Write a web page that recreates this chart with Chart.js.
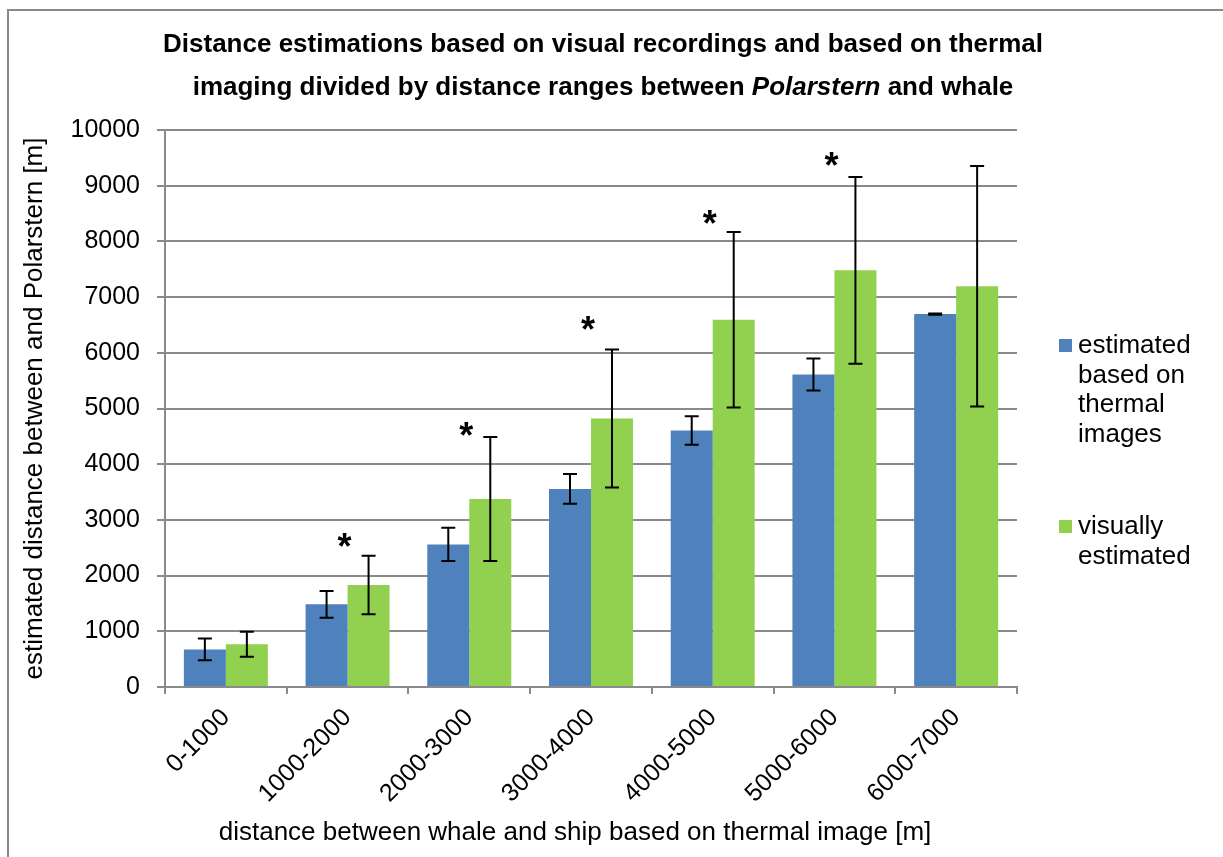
<!DOCTYPE html>
<html>
<head>
<meta charset="utf-8">
<script src="https://cdn.jsdelivr.net/npm/chart.js@4.4.1/dist/chart.umd.min.js"></script>
<style>
  html, body { margin: 0; padding: 0; background: #fff; }
  #wrap { width: 1223px; height: 857px; position: relative; }
</style>
</head>
<body>
<div id="wrap"><canvas id="chart" width="1223" height="857"></canvas></div>
<script>
// data
var categories = ['0-1000', '1000-2000', '2000-3000', '3000-4000', '4000-5000', '5000-6000', '6000-7000']
var thermal    = [675, 1485, 2560, 3555, 4605, 5610, 6695]
var thermalErr = [195, 240, 300, 267, 255, 287, 12]
var visual     = [767, 1830, 3375, 4820, 6595, 7480, 7195]
var visualErr  = [225, 525, 1115, 1240, 1575, 1676, 2160]
var starAt     = [null, 2600, 4600, 6500, 8400, 9450, null]
var yTicks     = [0, 1000, 2000, 3000, 4000, 5000, 6000, 7000, 8000, 9000, 10000]
var legendLines = [
  ['estimated', 'based on', 'thermal', 'images'],
  ['visually', 'estimated']
]

var FONT = '"Liberation Sans", Arial, sans-serif'
var GRID = '#8a8a8a'

// outer frame + title
var framePlugin = {
  id: 'frame',
  beforeDraw: function(chart) {
    var c = chart.ctx
    c.save()
    c.strokeStyle = GRID
    c.lineWidth = 2
    c.strokeRect(8, 10, 1240, 880)
    c.restore()
  },
  afterDraw: function(chart) {
    var c = chart.ctx
    c.save()
    c.fillStyle = '#000'
    c.textBaseline = 'middle'
    c.font = 'bold 26px ' + FONT
    c.textAlign = 'center'
    c.fillText('Distance estimations based on visual recordings and based on thermal', 603, 45)

    // second line has an italic word
    var parts = [
      ['imaging divided by distance ranges between ', 'bold 26px '],
      ['Polarstern', 'italic bold 26px '],
      [' and whale', 'bold 26px ']
    ]
    var total = 0
    for (var i = 0; i < parts.length; i++) {
      c.font = parts[i][1] + FONT
      total += c.measureText(parts[i][0]).width
    }
    var x = 603 - total / 2
    c.textAlign = 'left'
    for (var i = 0; i < parts.length; i++) {
      c.font = parts[i][1] + FONT
      c.fillText(parts[i][0], x, 88)
      x += c.measureText(parts[i][0]).width
    }

    // x axis title
    c.font = '26px ' + FONT
    c.textAlign = 'center'
    c.fillText('distance between whale and ship based on thermal image [m]', 575, 833)

    // legend
    var colors = [chart.data.datasets[0].backgroundColor, chart.data.datasets[1].backgroundColor]
    var tops = [346, 527]
    c.textAlign = 'left'
    for (var k = 0; k < legendLines.length; k++) {
      c.fillStyle = colors[k]
      c.fillRect(1059, tops[k] - 7, 13, 13)
      c.fillStyle = '#000'
      for (var j = 0; j < legendLines[k].length; j++) {
        c.fillText(legendLines[k][j], 1078, tops[k] + j * 29.5)
      }
    }
    c.restore()
  }
}

// error bars and significance stars
var errPlugin = {
  id: 'errbars',
  afterDatasetsDraw: function(chart) {
    var c = chart.ctx
    var ys = chart.scales.y
    var errs = [thermalErr, visualErr]
    c.save()
    c.strokeStyle = '#000'
    c.lineWidth = 2
    for (var d = 0; d < 2; d++) {
      var meta = chart.getDatasetMeta(d)
      var vals = chart.data.datasets[d].data
      meta.data.forEach(function(bar, i) {
        var top = ys.getPixelForValue(vals[i] + errs[d][i])
        var bot = ys.getPixelForValue(vals[i] - errs[d][i])
        c.beginPath()
        c.moveTo(bar.x, top); c.lineTo(bar.x, bot)
        c.moveTo(bar.x - 7, top); c.lineTo(bar.x + 7, top)
        c.moveTo(bar.x - 7, bot); c.lineTo(bar.x + 7, bot)
        c.stroke()
      })
    }
    c.fillStyle = '#000'
    c.font = 'bold 36px ' + FONT
    c.textAlign = 'center'
    c.textBaseline = 'middle'
    for (var i = 0; i < starAt.length; i++) {
      if (starAt[i] == null) continue
      var x = chart.scales.x.getPixelForValue(i) - 3
      c.fillText('*', x, ys.getPixelForValue(starAt[i]) + 7)
    }
    c.restore()
  }
}

var ctx = document.getElementById('chart')
var myBarChart = new Chart(ctx, {
  type: 'bar',
  data: {
    labels: categories,
    datasets: [{
      label: 'estimated based on thermal images',
      backgroundColor: '#4f81bd',
      data: thermal
    }, {
      label: 'visually estimated',
      backgroundColor: '#92d050',
      data: visual
    }]
  },
  options: {
    responsive: false,
    animation: false,
    layout: { padding: { top: 130, right: 206, bottom: 0, left: 0 } },
    datasets: { bar: { categoryPercentage: 0.69, barPercentage: 1.0 } },
    plugins: {
      legend: { display: false },
      title: { display: false },
      tooltip: { enabled: false }
    },
    scales: {
      x: {
        grid: { display: true, drawOnChartArea: false, offset: true, tickLength: 7, color: GRID, lineWidth: 2 },
        border: { color: GRID, width: 2 },
        ticks: { color: '#000', font: { family: FONT, size: 25 }, minRotation: 45, maxRotation: 45, padding: 9 },
        afterFit: function(s) { s.height = 170 }
      },
      y: {
        min: 0,
        max: 10000,
        afterBuildTicks: function(s) { s.ticks = yTicks.map(function(v) { return { value: v } }) },
        grid: { color: GRID, lineWidth: 2, tickLength: 8 },
        border: { color: GRID, width: 2 },
        ticks: {
          color: '#000',
          font: { family: FONT, size: 25 },
          padding: 17,
          callback: function(v) { return String(v) }
        },
        title: {
          display: true,
          text: 'estimated distance between and Polarstern [m]',
          color: '#000',
          font: { family: FONT, size: 26 },
          padding: { top: 19, bottom: 0 }
        },
        afterFit: function(s) { s.width = 165 }
      }
    }
  },
  plugins: [framePlugin, errPlugin]
})
</script>
</body>
</html>
